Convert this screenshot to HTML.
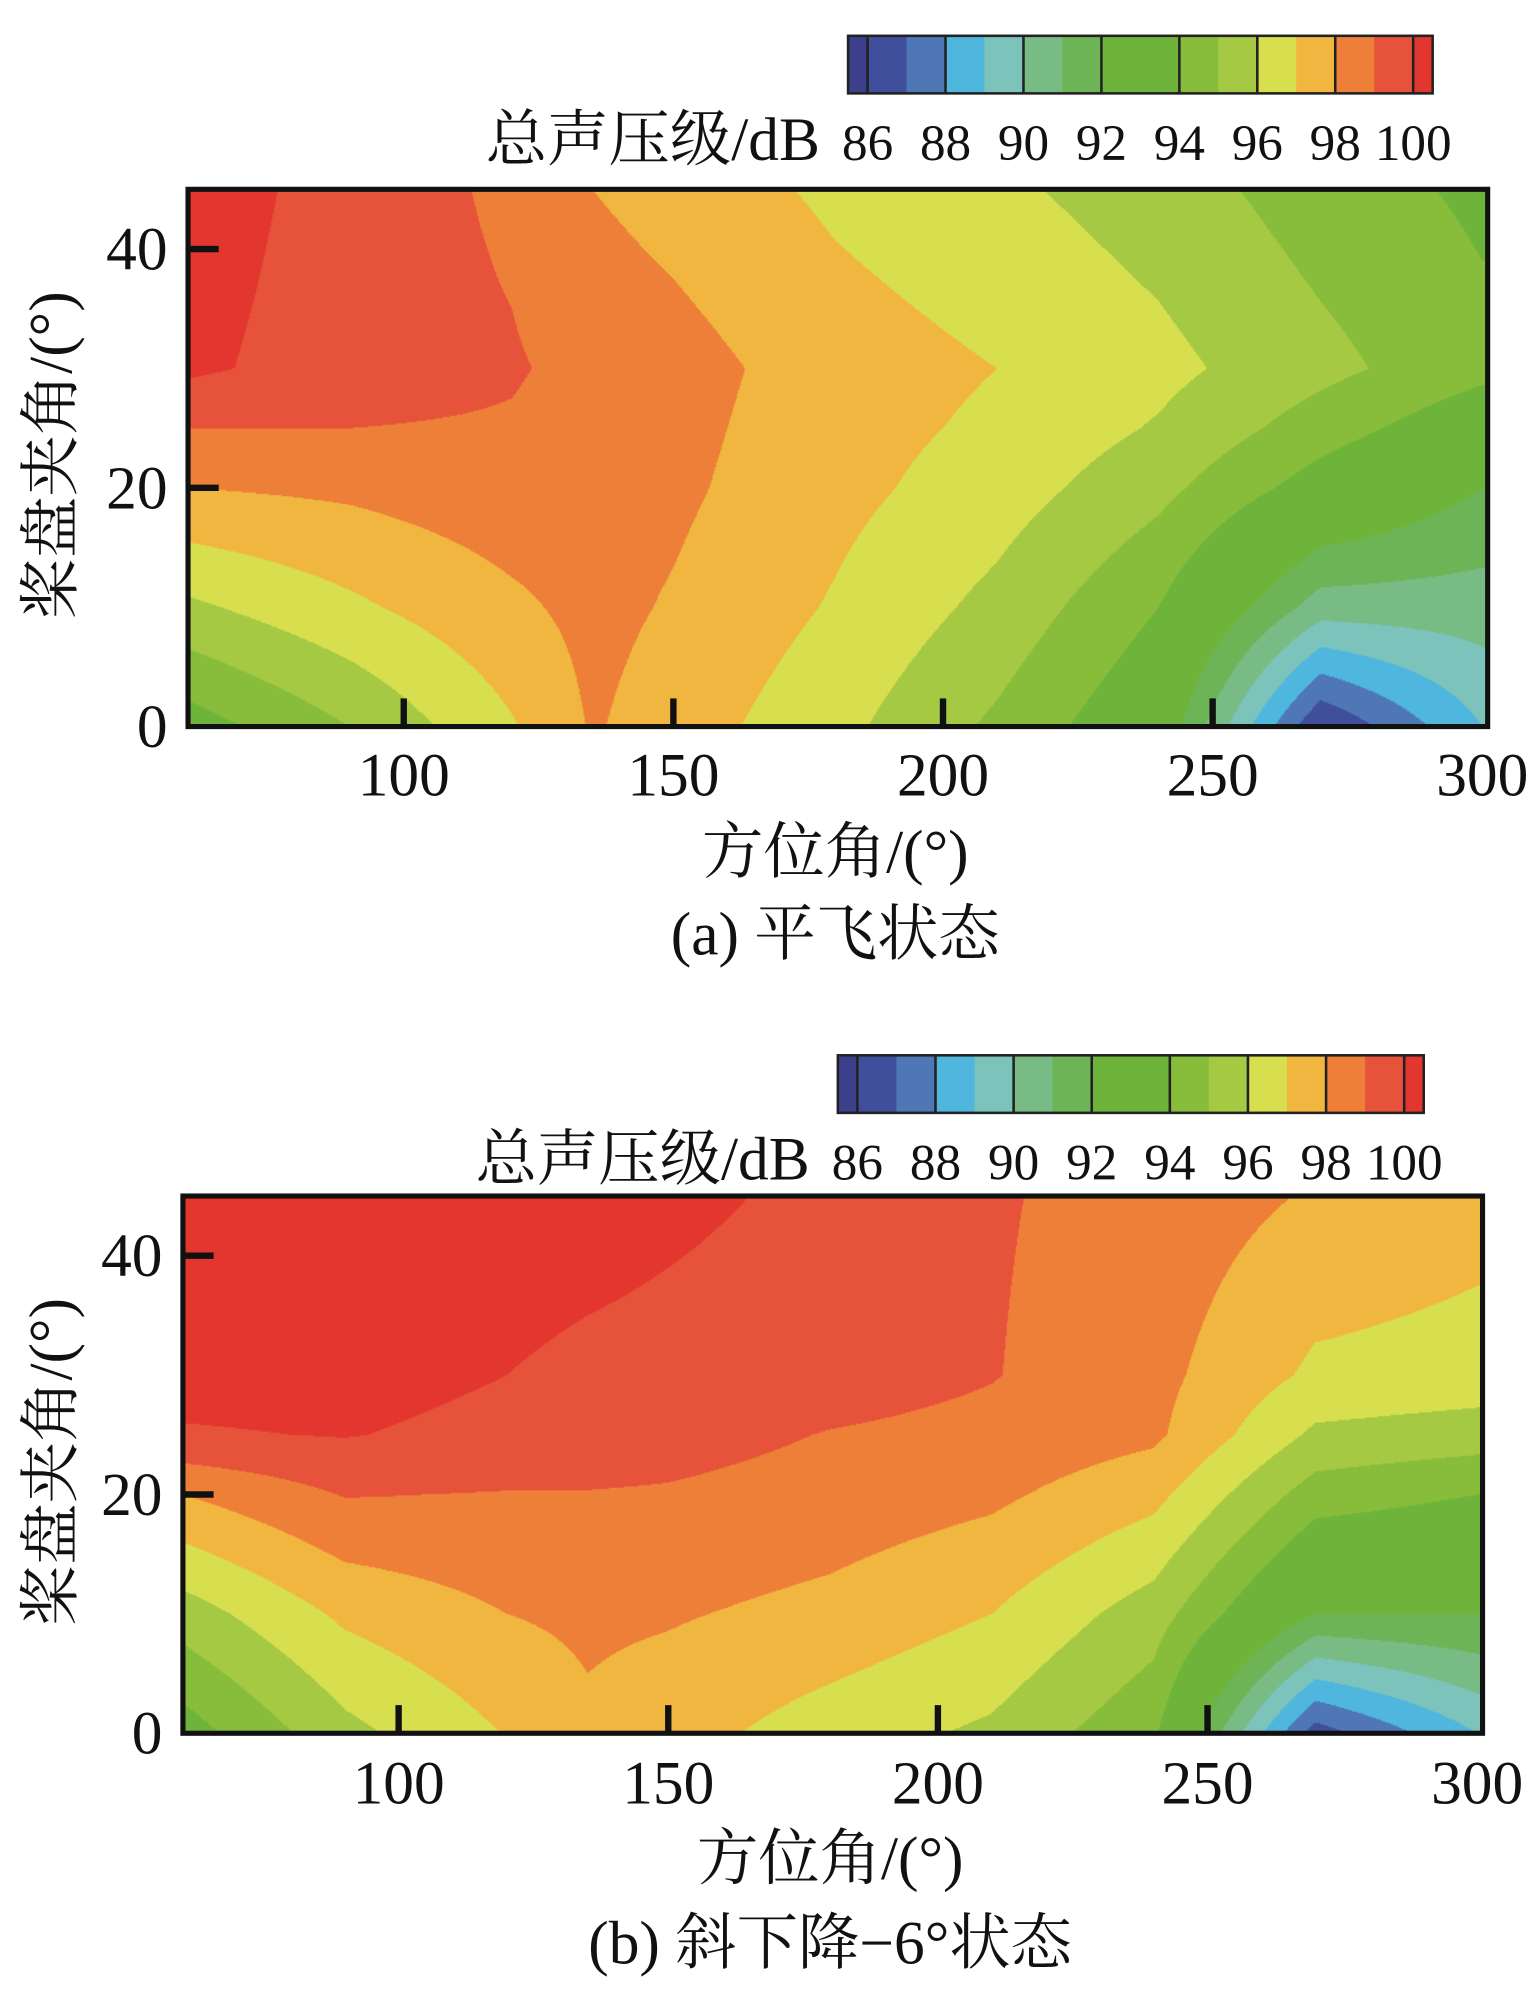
<!DOCTYPE html>
<html><head><meta charset="utf-8">
<style>
html,body{margin:0;padding:0;background:#fff;}
#wrap{position:relative;width:1200px;height:1563px;transform:scale(1.279167);transform-origin:0 0;}
canvas{position:absolute;}
svg{position:absolute;left:0;top:0;}
svg text{font-family:"Liberation Serif","Noto Serif CJK SC",serif;}
</style></head>
<body>
<div id="wrap">
<canvas id="ca" width="1016" height="420" style="left:147px;top:148px;width:1016px;height:420px"></canvas>
<canvas id="cb" width="1016" height="420" style="left:143px;top:935px;width:1016px;height:420px"></canvas>
<svg id="svg" width="1200" height="1563" viewBox="0 0 1200 1563"></svg>
</div>
<script>
// shared data
const azimuths = [60, 90, 120, 135, 150, 180, 210, 240, 270, 300];
const elevations = [0, 10, 20, 25, 30, 45];
const bandEdges = [85.5, 86, 87, 88, 89, 90, 91, 92, 94, 95, 96, 97, 98, 99, 100, 100.5];
const bandColors = ["#3b3f8c","#3f4f9c","#4f77b6","#4fb6de","#7cc4bb","#78bb85","#6db457","#6eb43a","#87bd3a","#a6c944","#d7df4f","#f1b63f","#ee7f38","#e6523a","#e2362f"];
const cbLabels = [86, 88, 90, 92, 94, 96, 98, 100];
const xTicks = [100, 150, 200, 250, 300];
const yTicks = [0, 20, 40];
// values per azimuth column: [el0, el10, el20, el25, el30, el45]
const columnsA = [
  [93.5, 95.8, 98.0, 99.0, 100.2, 100.5],
  [95.0, 96.8, 98.2, 99.0, 99.5, 99.6],
  [96.9, 97.8, 98.6, 98.9, 99.1, 98.8],
  [98.1, 98.3, 98.5, 98.6, 98.7, 98.0],
  [97.5, 97.9, 98.2, 98.3, 98.4, 97.6],
  [96.3, 96.9, 97.3, 97.4, 97.5, 96.8],
  [94.8, 95.7, 96.5, 96.8, 97.0, 96.2],
  [93.0, 94.0, 95.3, 95.9, 96.3, 95.5],
  [86.0, 90.5, 93.5, 94.5, 95.3, 94.5],
  [89.0, 90.5, 92.0, 93.2, 94.3, 93.8]
];
const columnsB = [
  [93.5, 95.5, 98.0, 99.9, 100.4, 100.5],
  [95.7, 97.2, 99.05, 100.05, 100.4, 100.5],
  [97.05, 98.0, 98.95, 99.7, 100.0, 100.5],
  [97.8, 98.2, 98.95, 99.6, 99.8, 100.4],
  [97.4, 98.1, 98.9, 99.4, 99.7, 100.2],
  [96.5, 97.7, 98.6, 98.95, 99.5, 99.8],
  [95.8, 97.0, 98.2, 98.7, 99.05, 99.1],
  [94.2, 95.5, 97.3, 98.2, 98.3, 98.6],
  [86.5, 92.0, 94.5, 95.8, 96.8, 97.9],
  [89.0, 92.0, 94.0, 95.5, 96.6, 97.4]
];

const NS = "http://www.w3.org/2000/svg";
const svg = document.getElementById('svg');
function mk(tag, attrs, parent){const e=document.createElementNS(NS,tag);for(const k in attrs)e.setAttribute(k,attrs[k]);(parent||svg).appendChild(e);return e;}

function interp(cols, az, el){
  let i=0; while(i<azimuths.length-2 && az>azimuths[i+1]) i++;
  let j=0; while(j<elevations.length-2 && el>elevations[j+1]) j++;
  const tx=Math.min(1,Math.max(0,(az-azimuths[i])/(azimuths[i+1]-azimuths[i])));
  const ty=Math.min(1,Math.max(0,(el-elevations[j])/(elevations[j+1]-elevations[j])));
  const a=cols[i][j],b=cols[i+1][j],c=cols[i][j+1],d=cols[i+1][j+1];
  return a*(1-tx)*(1-ty)+b*tx*(1-ty)+c*(1-tx)*ty+d*tx*ty;
}
function colorFor(v){
  for(let k=1;k<bandEdges.length-1;k++){ if(v<bandEdges[k]) return bandColors[k-1]; }
  return bandColors[bandColors.length-1];
}
function hex(c){return [parseInt(c.slice(1,3),16),parseInt(c.slice(3,5),16),parseInt(c.slice(5,7),16)];}
const FONT='"Liberation Serif","Noto Serif CJK SC",serif';

function drawChart(cfg){
  const {canvasId, cols, px, py, pw, ph, cbx, cby, cbw, cbh, letter, caption, xlY, titleY, capY, ylY} = cfg;
  const azMin=60, azMax=301, elMin=0, elMax=45;
  const xs = a => px + (a-azMin)/(azMax-azMin)*pw;
  const ys = e => py + ph - (e-elMin)/(elMax-elMin)*ph;
  const cv=document.getElementById(canvasId), ctx=cv.getContext('2d');
  const img=ctx.createImageData(pw,ph);
  for(let y=0;y<ph;y++){
    const el = elMax - (y+0.5)/ph*(elMax-elMin);
    for(let x=0;x<pw;x++){
      const az = azMin + (x+0.5)/pw*(azMax-azMin);
      const rgb=hex(colorFor(interp(cols,az,el)));
      const o=(y*pw+x)*4; img.data[o]=rgb[0];img.data[o+1]=rgb[1];img.data[o+2]=rgb[2];img.data[o+3]=255;
    }
  }
  ctx.putImageData(img,0,0);
  const g=mk('g',{});
  
  
  const fr=mk('rect',{x:px,y:py,width:pw,height:ph,fill:'none',stroke:'#111','stroke-width':4},g);
   
  xTicks.forEach(t=>{
    const x=xs(t);
    if(t<300){const l=mk('line',{x1:x,x2:x,y1:py+ph,y2:py+ph-22,stroke:'#111','stroke-width':5},g);
       }
    const tx=mk('text',{x:x,y:xlY,'text-anchor':'middle','font-size':48,fill:'#111','font-family':FONT},g);
    tx.textContent=t;  
  });
  yTicks.forEach(t=>{
    const y=ys(t);
    if(t>0){const l=mk('line',{x1:px,x2:px+24,y1:y,y2:y,stroke:'#111','stroke-width':5},g);
       }
    const tx=mk('text',{x:px-16,y:y+16,'text-anchor':'end','font-size':48,fill:'#111','font-family':FONT},g);
    tx.textContent=t;  
  });
  const xt=mk('text',{x:px+pw/2-2,y:titleY,'text-anchor':'middle','font-size':48,fill:'#111','font-family':FONT},g);
  xt.textContent='方位角/(°)';  
  const yt=mk('text',{x:0,y:0,'text-anchor':'middle','font-size':48,fill:'#111','font-family':FONT,transform:`translate(56,${ylY}) rotate(-90)`},g);
  yt.textContent='桨盘夹角/(°)';  
  const cp=mk('text',{x:px+pw/2-2,y:capY,'text-anchor':'middle','font-size':48,fill:'#111','font-family':FONT},g);
  cp.textContent=caption;  
  const e0=bandEdges[0], e1=bandEdges[bandEdges.length-1];
  const cx = v => cbx + (v-e0)/(e1-e0)*cbw;
  for(let k=0;k<bandColors.length;k++){
    const r=mk('rect',{x:cx(bandEdges[k]),y:cby,width:cx(bandEdges[k+1])-cx(bandEdges[k])+0.5,height:cbh,fill:bandColors[k]},g);
     
  }
  cbLabels.forEach(v=>{
    mk('line',{x1:cx(v),x2:cx(v),y1:cby,y2:cby+cbh,stroke:'#222','stroke-width':2},g);
    const t=mk('text',{x:cx(v),y:cby+cbh+52,'text-anchor':'middle','font-size':40,fill:'#111','font-family':FONT},g);
    t.textContent=v;  
  });
  const cbf=mk('rect',{x:cbx,y:cby,width:cbw,height:cbh,fill:'none',stroke:'#222','stroke-width':2},g);
   
  const ct=mk('text',{x:cbx-22,y:cby+cbh+52,'text-anchor':'end','font-size':48,fill:'#111','font-family':FONT},g);
  ct.textContent='总声压级/dB';  
}

drawChart({canvasId:'ca',cols:columnsA,px:147,py:148,pw:1016,ph:420,cbx:663,cby:28,cbw:457,cbh:45,letter:'a',caption:'(a) 平飞状态',xlY:622,titleY:682,capY:746,ylY:356});
drawChart({canvasId:'cb',cols:columnsB,px:143,py:935,pw:1016,ph:420,cbx:655,cby:825,cbw:458,cbh:45,letter:'b',caption:'(b) 斜下降−6°状态',xlY:1410,titleY:1469,capY:1535,ylY:1143});
</script>
</body></html>
